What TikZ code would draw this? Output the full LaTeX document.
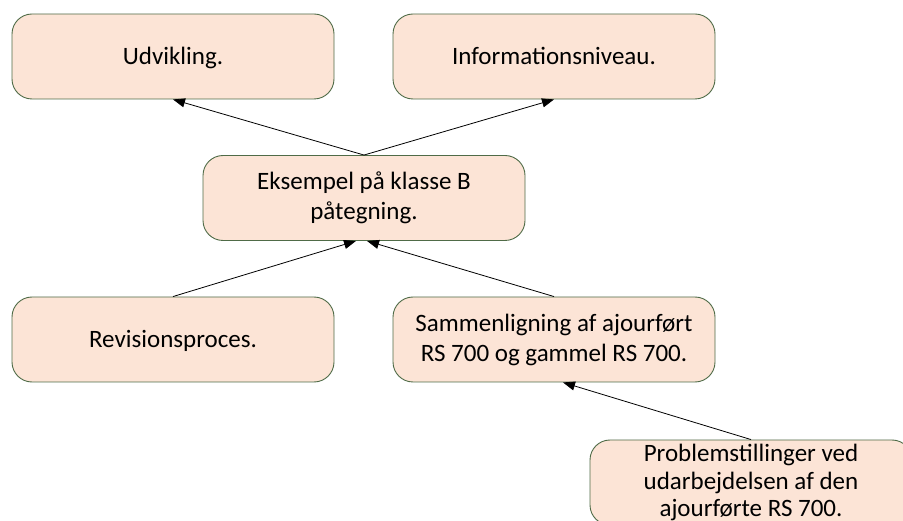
\documentclass[tikz,border=0pt]{standalone}
\usepackage{fontspec}
\setmainfont{Carlito}
\usetikzlibrary{arrows.meta}
\definecolor{boxfill}{RGB}{252,228,214}
\definecolor{boxdraw}{RGB}{79,107,71}
\tikzset{
  box/.style={draw=boxdraw, fill=boxfill, line width=0.9pt, rounded corners=20pt,
    minimum width=322pt, minimum height=85pt, inner sep=0pt, align=center,
    font=\fontsize{25}{30}\selectfont},
  oneline/.style={text height=20pt, text depth=4pt},
  conn/.style={line width=0.8pt, -{Triangle[length=12pt,width=9pt]}}
}
\begin{document}
\begin{tikzpicture}[x=1pt,y=-1pt]
\useasboundingbox (0,0) rectangle (903,521);
\node[box, oneline] (U) at (173,56.5) {Udvikling.};
\node[box, oneline] (I) at (554,56.5) {Informationsniveau.};
\node[box] (E) at (364,198) {Eksempel på klasse B\\påtegning.};
\node[box, oneline] (R) at (173,339.5) {Revisionsproces.};
\node[box] (S) at (554,339.5) {Sammenligning af ajourført\\RS 700 og gammel RS 700.};
\node[box, font=\fontsize{25}{27.5}\selectfont] (P) at (751,482.5) {Problemstillinger ved\\udarbejdelsen af den\\ajourførte RS 700.};
\draw[conn] (E.north) -- (U.south);
\draw[conn] (E.north) -- (I.south);
\draw[conn] (R.north) -- ([xshift=-8pt]E.south);
\draw[conn] (S.north) -- ([xshift=3pt]E.south);
\draw[conn] (P.north) -- ([xshift=9pt]S.south);
\end{tikzpicture}
\end{document}
